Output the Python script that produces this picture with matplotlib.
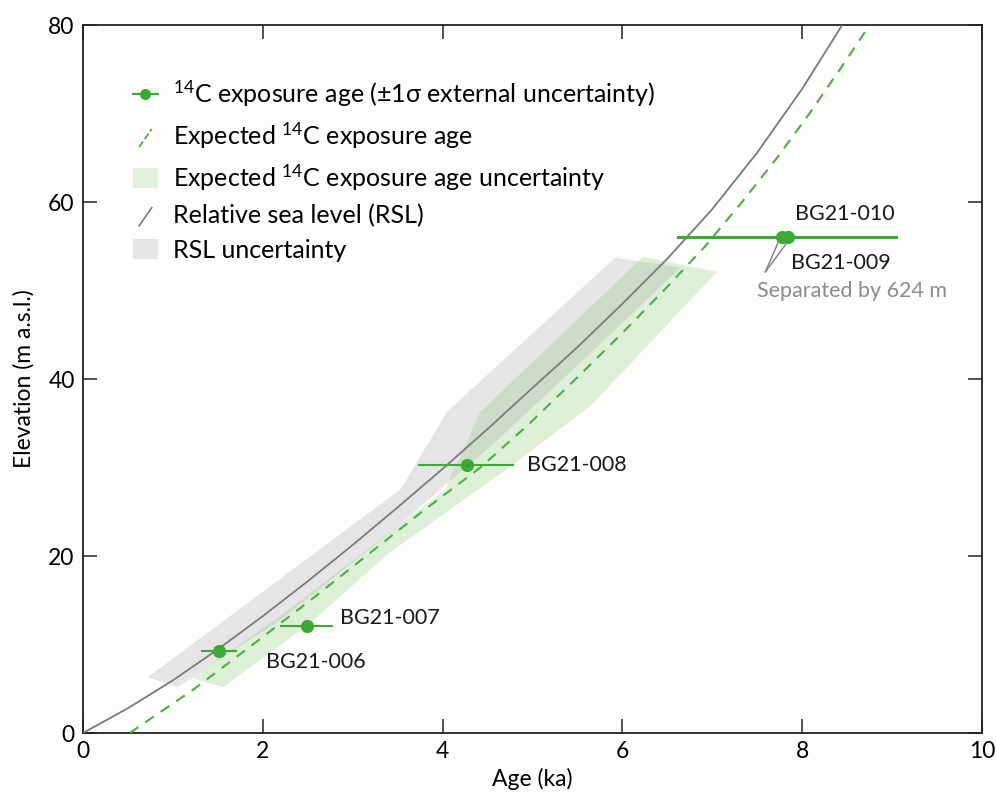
import numpy as np
import matplotlib.pyplot as plt
from matplotlib.lines import Line2D
from matplotlib.patches import Patch
from matplotlib.legend_handler import HandlerBase

plt.rcParams['font.family'] = ['Lato', 'DejaVu Sans']
plt.rcParams['mathtext.fontset'] = 'custom'
plt.rcParams['mathtext.rm'] = 'Lato'
plt.rcParams['mathtext.default'] = 'regular'

# relative sea level curve
rsl_age = [0, 0.5, 1.0, 1.5, 2.0, 2.5, 3.0, 3.5, 4.0, 4.5, 5.0, 5.5, 6.0, 6.5, 7.0, 7.5, 8.0, 8.46]
rsl_elev = [0, 2.8, 5.95, 9.45, 13.2, 17.15, 21.25, 25.5, 29.85, 34.35, 39.0, 43.6, 48.5, 53.6,
            59.2, 65.6, 72.8, 80.25]

# expected 14C exposure age curve
exp_age = [0.52, 1.24, 1.89, 2.53, 3.15, 3.77, 4.42, 4.97, 5.48, 5.98, 6.46, 6.92, 7.33, 7.72, 8.08,
           8.42, 8.75]
exp_elev = [0, 5, 10, 15, 20, 25, 30, 35, 40, 45, 50, 55, 60, 65, 70, 75, 80]

# RSL uncertainty polygon
rsl_unc_age = [0.72, 3.53, 4.05, 5.92, 6.65, 5.6, 4.6, 3.4, 2.2, 1.05]
rsl_unc_elev = [6.3, 27.5, 36.3, 53.7, 52.6, 42.5, 33.0, 22.5, 12.8, 5.2]

# expected exposure age uncertainty polygon
exp_unc_age = [1.21, 2.3, 4.03, 4.42, 6.23, 7.05, 5.65, 4.78, 3.4, 2.5, 1.56]
exp_unc_elev = [6.2, 14.0, 27.5, 36.3, 53.8, 52.1, 37.0, 30.3, 20.3, 12.2, 5.2]

# samples
samples = ['BG21-006', 'BG21-007', 'BG21-008', 'BG21-009', 'BG21-010']
age = [1.51, 2.49, 4.27, 7.77, 7.84]
age_lo = [1.32, 2.20, 3.74, 6.62, 6.66]
age_hi = [1.70, 2.77, 4.78, 9.00, 9.04]
elev = [9.3, 12.1, 30.3, 56.0, 56.0]

label_x = [2.04, 2.86, 4.94, 7.87, 7.92]
label_y = [8.0, 13.0, 30.3, 53.1, 58.6]

green = '#3aaa35'
bg = '#fdfdfb'

fig = plt.figure(figsize=(9.96, 7.97), dpi=100, facecolor=bg)
ax = fig.add_axes([0.0833, 0.0803, 0.9027, 0.8883], facecolor=bg)

ax.fill(rsl_unc_age, rsl_unc_elev, color='#e6e4e7', lw=0, zorder=1)
ax.fill(exp_unc_age, exp_unc_elev, color='#7cc46c', alpha=0.24, lw=0, zorder=2)
ax.plot(rsl_age, rsl_elev, color='#7a7a7a', lw=1.3, zorder=3)
ax.plot(exp_age, exp_elev, color='#4aae44', lw=1.5, ls=(0, (5, 4)), zorder=3)

for i in range(len(samples)):
    lw = 2.2 if i >= 3 else 1.5
    ax.plot([age_lo[i], age_hi[i]], [elev[i], elev[i]], color=green, lw=lw, zorder=4)
ax.plot(age, elev, 'o', color=green, ms=9.5, mec='none', zorder=5)

for i in range(len(samples)):
    ax.text(label_x[i], label_y[i], samples[i], fontsize=15.5, va='center', ha='left', color='#1a1a1a', zorder=6)

# pointer lines for the two close samples
ax.plot([7.73, 7.59], [55.4, 52.1], color='#7f7f7f', lw=1, zorder=4)
ax.plot([7.83, 7.59], [55.4, 52.1], color='#7f7f7f', lw=1, zorder=4)
ax.text(7.5, 49.9, 'Separated by 624 m', fontsize=15.5, color='#8c8c8c', va='center', ha='left')

ax.set_xlim(0, 10)
ax.set_ylim(0, 80)
ax.set_xticks([0, 2, 4, 6, 8, 10])
ax.set_yticks([0, 20, 40, 60, 80])
ax.tick_params(direction='in', top=True, right=True, length=10, width=1.1, labelsize=16.5, pad=6, color='#222222')
for s in ax.spines.values():
    s.set_linewidth(1.3)
    s.set_color('#222222')
ax.set_xlabel('Age (ka)', fontsize=16.5, labelpad=4)
ax.set_ylabel('Elevation (m a.s.l.)', fontsize=16.5, labelpad=10)


class Diag(HandlerBase):
    def create_artists(self, legend, orig, xd, yd, w, h, fs, trans):
        l = Line2D([-xd + w * 0.25, -xd + w * 0.75], [-yd - h * 0.05, -yd + h * 0.85],
                   color=orig.get_color(), ls=orig.get_linestyle(), lw=orig.get_linewidth(),
                   transform=trans)
        return [l]


h_pt = Line2D([], [], color=green, lw=1.5, marker='o', ms=8, mec='none')
h_exp = Line2D([], [], color='#4aae44', lw=1.3, ls=(0, (3, 2)))
h_expu = Patch(color='#e2f0dc', lw=0)
h_rsl = Line2D([], [], color='#7a7a7a', lw=1.2)
h_rslu = Patch(color='#e6e4e7', lw=0)
leg = ax.legend([h_pt, h_exp, h_expu, h_rsl, h_rslu],
                [r'$^{14}$C exposure age (±1σ external uncertainty)',
                 r'Expected $^{14}$C exposure age',
                 r'Expected $^{14}$C exposure age uncertainty',
                 'Relative sea level (RSL)',
                 'RSL uncertainty'],
                handler_map={h_exp: Diag(), h_rsl: Diag()},
                loc='upper left', bbox_to_anchor=(0.0556, 0.924), frameon=False,
                borderpad=0, borderaxespad=0,
                fontsize=18, handlelength=1.0, handleheight=0.85, handletextpad=0.62,
                labelspacing=0.45)

plt.savefig('out.png', dpi=100, facecolor=bg)
